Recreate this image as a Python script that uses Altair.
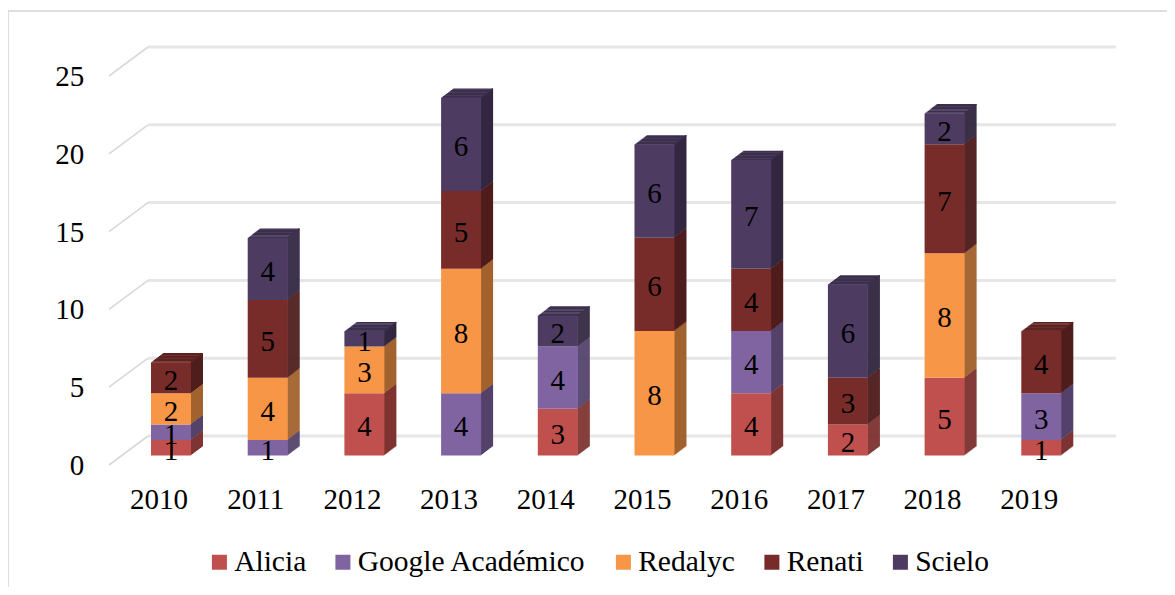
import altair as alt
import pandas as pd

years = ["2010", "2011", "2012", "2013", "2014", "2015", "2016", "2017", "2018", "2019"]
sources = ["Alicia", "Google Académico", "Redalyc", "Renati", "Scielo"]
alicia = [1, 0, 4, 0, 3, 0, 4, 2, 5, 1]
google = [1, 1, 0, 4, 4, 0, 4, 0, 0, 3]
redalyc = [2, 4, 3, 8, 0, 8, 0, 0, 8, 0]
renati = [2, 5, 0, 5, 0, 6, 4, 3, 7, 4]
scielo = [0, 4, 1, 6, 2, 6, 7, 6, 2, 0]
front_colors = ["#C0504D", "#8064A2", "#F79646", "#772C2A", "#4D3B62"]
side_colors = ["#7E3432", "#54426B", "#A2622E", "#4E1D1C", "#332741"]
top_colors = ["#96403D", "#65507F", "#C27638", "#5E2321", "#3D2F4E"]
grid_values = [0, 5, 10, 15, 20, 25]

series = [alicia, google, redalyc, renati, scielo]
rows = []
for yi, yr in enumerate(years):
    base = 0
    seg = []
    for si, s in enumerate(sources):
        v = series[si][yi]
        if v:
            seg.append(dict(year=yr, source=s, value=v, start=base, end=base + v,
                            side=side_colors[si], top=top_colors[si], is_top=False))
            base += v
    seg[-1]["is_top"] = True
    rows += seg
df = pd.DataFrame(rows)
df["mid"] = (df["start"] + df["end"]) / 2
grid = pd.DataFrame({"v": grid_values})

FONT = "Liberation Serif"
W, H = 967, 389
X0, Y0 = 102.65, 58.5
BAR = 40
CX = 12
DEPTH = 12
SLOPE = 0.76

yscale = alt.Scale(domain=[0, 25], nice=False)
yaxis = alt.Axis(values=grid_values, domain=False, ticks=False, grid=False, labelPadding=27,
                 labelOffset=10, labelFont=FONT, labelFontSize=29, labelColor="#000000")
x = alt.X("year:N", sort=years, title=None,
          scale=alt.Scale(paddingInner=0, paddingOuter=0),
          axis=alt.Axis(labelAngle=0, domain=False, ticks=False, grid=False, labelPadding=30,
                        labelFont=FONT, labelFontSize=29, labelColor="#000000"))
y = alt.Y("end:Q", title=None, scale=yscale, axis=yaxis)

layers = []

# outer frame
layers.append(alt.Chart(grid.head(1)).mark_rule(color="#DEDEDE", strokeWidth=2).encode(
    x=alt.value(-X0), x2=alt.value(W + 100), y=alt.value(-55.5)))
layers.append(alt.Chart(grid.head(1)).mark_rule(color="#DEDEDE", strokeWidth=2).encode(
    x=alt.value(-X0), y=alt.value(-55.5), y2=alt.value(H + 140)))

# back wall and side wall gridlines
layers.append(alt.Chart(grid).mark_rule(color="#E6E6E6", strokeWidth=3, yOffset=-19.5).encode(
    x=alt.value(37.35), x2=alt.value(1005.35), y=alt.Y("v:Q", scale=yscale, title=None, axis=yaxis)))
layers.append(alt.Chart(grid).mark_rule(color="#D9D9D9", strokeWidth=1.6, yOffset=9.5, y2Offset=-19.5).encode(
    x=alt.value(-1.65), x2=alt.value(37.35),
    y=alt.Y("v:Q", scale=yscale, title=None, axis=yaxis), y2="v:Q"))

# extruded faces
for k in range(DEPTH, 0, -1):
    off = -SLOPE * k
    layers.append(alt.Chart(df).mark_bar(width=1.5, xOffset=CX + BAR / 2 + k - 0.75,
                                         yOffset=off, y2Offset=off).encode(
        x=x, y=y, y2="start:Q", color=alt.Color("side:N", scale=None, legend=None)))
for k in range(DEPTH, 0, -1):
    off = -SLOPE * k
    layers.append(alt.Chart(df).transform_filter("datum.is_top").mark_bar(
        width=BAR, xOffset=CX + k, yOffset=off, y2Offset=off + 1.2).encode(
        x=x, y=y, y2="end:Q", color=alt.Color("top:N", scale=None, legend=None)))

# front faces
layers.append(alt.Chart(df).mark_bar(width=BAR, xOffset=CX).encode(
    x=x, y=y, y2="start:Q",
    color=alt.Color("source:N", sort=sources, scale=alt.Scale(domain=sources, range=front_colors),
                    legend=alt.Legend(title=None, orient="none", direction="horizontal", columns=5,
                                      legendX=94, legendY=481, gridAlign="none", columnPadding=21.5,
                                      symbolType="square", symbolSize=225, symbolStrokeWidth=0,
                                      symbolOpacity=1, labelOffset=0, labelFont=FONT, labelFontSize=29.5,
                                      labelColor="#000000", labelLimit=400, padding=0))))

# value labels
layers.append(alt.Chart(df).mark_text(font=FONT, fontSize=29, color="#000000", xOffset=CX, yOffset=3).encode(
    x=x, y=alt.Y("mid:Q", title=None, scale=yscale, axis=yaxis),
    text="value:Q"))

chart = alt.layer(*layers).resolve_scale(color="independent").properties(
    width=W, height=H,
    autosize=alt.AutoSizeParams(type="none"),
    padding={"left": X0, "top": Y0, "right": 1159 - X0 - W, "bottom": 579 - Y0 - H},
    background="#FFFFFF",
).configure_view(stroke=None)

chart.save("out.html", embed_options={"renderer": "svg", "actions": False})
